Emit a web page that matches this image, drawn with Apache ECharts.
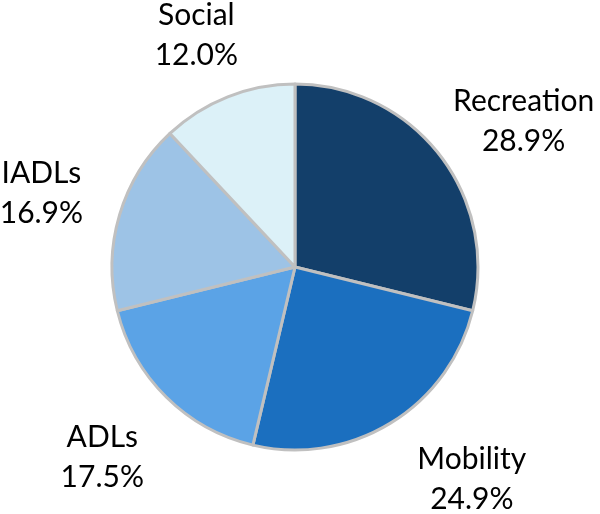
<!DOCTYPE html>
<html>
<head>
<meta charset="utf-8">
<script src="https://cdn.jsdelivr.net/npm/echarts@6/dist/echarts.min.js"></script>
<style>html,body{margin:0;padding:0;background:#fff}#c{width:600px;height:514px}</style>
</head>
<body>
<div id="c"></div>
<script>
var categories = ['Recreation', 'Mobility', 'ADLs', 'IADLs', 'Social'];
var values = [28.9, 24.9, 17.5, 16.9, 12.0];
var colors = ['#133f6a', '#1b6fbf', '#5ba3e6', '#9dc3e6', '#dcf1f8'];
// label placement (layout only): radial distance and angular nudge (degrees) per slice
var labelDist = [271, 276, 271, 264, 252];
var labelNudge = [5.6, -8.4, 0.6, -0.4, -1.5];

var cx = 295, cy = 267, R = 183;
var total = values.reduce(function (a, b) { return a + b; }, 0);
var mids = [];
(function () {
  var acc = 0;
  for (var i = 0; i < values.length; i++) {
    mids.push((acc + values[i] / 2) / total * 2 * Math.PI);
    acc += values[i];
  }
})();

var chart = echarts.init(document.getElementById('c'));
chart.setOption({
  animation: false,
  series: [{
    type: 'pie',
    center: [cx, cy],
    radius: [0, R],
    startAngle: 90,
    clockwise: true,
    data: categories.map(function (c, i) {
      return { name: c, value: values[i], itemStyle: { color: colors[i] } };
    }),
    itemStyle: { borderColor: '#c0c0c0', borderWidth: 3 },
    label: {
      show: true,
      position: 'inside',
      overflow: 'none',
      fontFamily: 'Lato',
      fontSize: 30,
      lineHeight: 40,
      color: '#000',
      align: 'center',
      verticalAlign: 'middle',
      formatter: function (p) { return p.name + '\n' + p.value.toFixed(1) + '%'; }
    },
    labelLine: { show: false },
    labelLayout: function (p) {
      var i = p.dataIndex;
      var a = mids[i] + labelNudge[i] * Math.PI / 180;
      return {
        x: cx + labelDist[i] * Math.sin(a),
        y: cy - labelDist[i] * Math.cos(a),
        align: 'center',
        verticalAlign: 'middle'
      };
    },
    emphasis: { disabled: true }
  }]
});
</script>
</body>
</html>
